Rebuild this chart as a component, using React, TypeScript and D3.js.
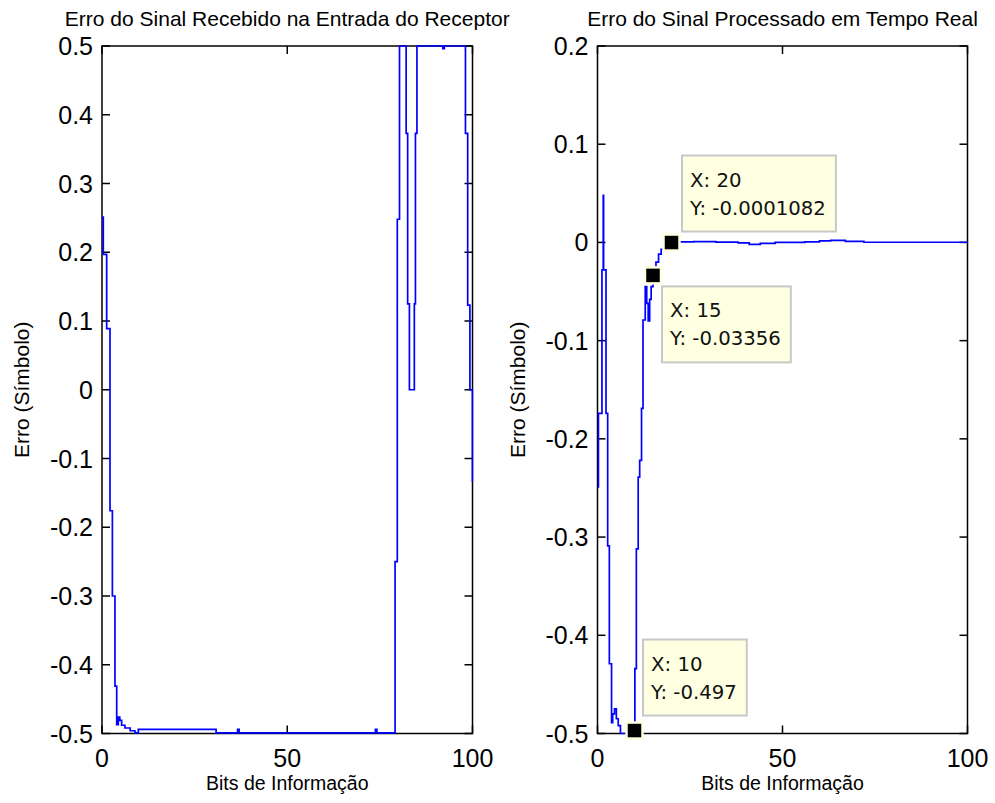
import React, { useEffect, useRef } from 'react';
import * as d3 from 'd3';

// Left panel: error of the received signal (stair points: value holds until the next x)
const recebidoX = [0, 0.35, 1.26, 2.16, 2.8, 3.5, 3.97, 4.4, 4.8, 5.3, 6.2, 7.6, 8.9, 9.8, 30.8, 36.6, 37.0, 73.8, 74.2, 79.1, 79.7, 80.3, 82.1, 82.5, 82.97, 84.3, 84.6, 85.0, 92.0, 92.4, 98.1, 98.7, 99.3, 100];
const recebidoY = [0.251, 0.197, 0.089, -0.176, -0.3, -0.431, -0.487, -0.476, -0.481, -0.488, -0.492, -0.496, -0.499, -0.494, -0.499, -0.494, -0.499, -0.494, -0.499, -0.25, 0.248, 0.5, 0.373, 0.125, 0.0, 0.125, 0.373, 0.5, 0.496, 0.5, 0.373, 0.123, 0.0, -0.134];

// Right panel: error of the signal processed in real time
const processadoX = [0, 0.25, 1.2, 1.55, 1.65, 2.3, 2.75, 3.2, 3.8, 4.1, 4.6, 5.1, 5.6, 6.2, 10, 10.1, 10.5, 11.0, 11.4, 11.9, 12.3, 12.9, 13.3, 13.7, 14.1, 14.5, 15, 15.8, 16.5, 17.2, 18, 19, 20, 22, 26, 32, 38, 41, 44, 48, 56, 60, 63, 67, 72, 100];
const processadoY = [-0.249, -0.174, -0.028, 0.048, -0.028, -0.174, -0.309, -0.429, -0.489, -0.48, -0.475, -0.485, -0.492, -0.5, -0.497, -0.434, -0.312, -0.239, -0.222, -0.169, -0.079, -0.045, -0.062, -0.08, -0.058, -0.045, -0.03356, -0.02, -0.012, -0.007, -0.004, -0.002, -0.0001082, 0.0005, 0.0008, 0.0004, -0.0005, -0.002, -0.001, 0.0, 0.0006, 0.0015, 0.002, 0.001, 0.0002, 0.0];

// data tips on the right panel
const tipX = [10, 15, 20];
const tipY = [-0.497, -0.03356, -0.0001082];
const tipYLabel = ['-0.497', '-0.03356', '-0.0001082'];

const xTicks = [0, 50, 100];
const leftYTicks = [-0.5, -0.4, -0.3, -0.2, -0.1, 0, 0.1, 0.2, 0.3, 0.4, 0.5];
const rightYTicks = [-0.5, -0.4, -0.3, -0.2, -0.1, 0, 0.1, 0.2];

const titles = ['Erro do Sinal Recebido na Entrada do Receptor', 'Erro do Sinal Processado em Tempo Real'];
const xLabel = 'Bits de Informação';
const yLabel = 'Erro (Símbolo)';

// tip box offsets from the marker (layout)
const tipBoxOffset = [[8.5, -91], [9, 11], [10.5, -87]];

const FONT = '"Liberation Sans", Arial, sans-serif';
const TOP = 46;
const BOTTOM = 733.5;

const fmt = (v: number) => String(Math.round(v * 10) / 10);

function drawPanel(svg: any, id: string, x0: number, x1: number, xs: number[], ys: number[], yTicks: number[], title: string, withTips: boolean) {
  const x = d3.scaleLinear().domain([0, 100]).range([x0, x1]);
  const y = d3.scaleLinear().domain([yTicks[0], yTicks[yTicks.length - 1]]).range([BOTTOM, TOP]);
  const g = svg.append('g');

  svg.append('defs').append('clipPath').attr('id', id)
    .append('rect').attr('x', x0 - 1).attr('y', TOP - 1).attr('width', x1 - x0 + 2).attr('height', BOTTOM - TOP + 2);

  // frame + ticks
  g.append('rect').attr('x', x0).attr('y', TOP).attr('width', x1 - x0).attr('height', BOTTOM - TOP)
    .attr('fill', '#fff').attr('stroke', '#000').attr('stroke-width', 1.5);

  const tl = 8;
  yTicks.forEach(t => {
    g.append('line').attr('x1', x0).attr('x2', x0 + tl).attr('y1', y(t)).attr('y2', y(t)).attr('stroke', '#000').attr('stroke-width', 1.5);
    g.append('line').attr('x1', x1 - tl).attr('x2', x1).attr('y1', y(t)).attr('y2', y(t)).attr('stroke', '#000').attr('stroke-width', 1.5);
    g.append('text').attr('x', x0 - 9).attr('y', y(t)).attr('dy', '0.36em').attr('text-anchor', 'end')
      .attr('font-family', FONT).attr('font-size', 25).text(fmt(t));
  });
  xTicks.forEach(t => {
    g.append('line').attr('x1', x(t)).attr('x2', x(t)).attr('y1', BOTTOM).attr('y2', BOTTOM - tl).attr('stroke', '#000').attr('stroke-width', 1.5);
    g.append('line').attr('x1', x(t)).attr('x2', x(t)).attr('y1', TOP).attr('y2', TOP + tl).attr('stroke', '#000').attr('stroke-width', 1.5);
    g.append('text').attr('x', x(t)).attr('y', 767).attr('text-anchor', 'middle')
      .attr('font-family', FONT).attr('font-size', 25).text(String(t));
  });

  // data line
  const pts = xs.map((v, i) => [v, ys[i]] as [number, number]);
  const line = d3.line<[number, number]>().x(d => x(d[0])).y(d => y(d[1])).curve(d3.curveStepAfter);
  g.append('path').attr('d', line(pts)).attr('fill', 'none').attr('stroke', '#0000ff')
    .attr('stroke-width', 1.7).attr('clip-path', `url(#${id})`);

  // labels
  const cx = (x0 + x1) / 2;
  g.append('text').attr('x', cx).attr('y', 26).attr('text-anchor', 'middle')
    .attr('font-family', FONT).attr('font-size', 21).text(title);
  g.append('text').attr('x', cx).attr('y', 790).attr('text-anchor', 'middle')
    .attr('font-family', FONT).attr('font-size', 19.5).text(xLabel);
  g.append('text').attr('transform', `translate(${x0 - 73},${(TOP + BOTTOM) / 2}) rotate(-90)`)
    .attr('text-anchor', 'middle').attr('font-family', FONT).attr('font-size', 21).text(yLabel);

  if (!withTips) return;
  tipX.forEach((tx, i) => {
    const sx = x(tx), sy = y(tipY[i]);
    const [ox, oy] = tipBoxOffset[i];
    const bx = sx + ox, by = sy + oy;
    const tg = g.append('g');
    const box = tg.append('rect').attr('x', bx).attr('y', by).attr('height', 76)
      .attr('fill', '#ffffe1').attr('stroke', '#c8c8c8').attr('stroke-width', 2);
    const t1 = tg.append('text').attr('x', bx + 8).attr('y', by + 31)
      .attr('font-family', '"DejaVu Sans", sans-serif').attr('font-size', 19.7).attr('fill', '#111').text(`X: ${tx}`);
    const t2 = tg.append('text').attr('x', bx + 8).attr('y', by + 59)
      .attr('font-family', '"DejaVu Sans", sans-serif').attr('font-size', 19.7).attr('fill', '#111').text(`Y: ${tipYLabel[i]}`);
    const w = Math.max((t1.node() as any).getComputedTextLength(), (t2.node() as any).getComputedTextLength());
    box.attr('width', w + 18);
    g.append('rect').attr('x', sx - 8).attr('y', sy - 8).attr('width', 16).attr('height', 16)
      .attr('fill', '#000').attr('stroke', '#ffffe1').attr('stroke-width', 2.5);
  });
}

const App = () => {
  const ref = useRef<SVGSVGElement>(null);

  useEffect(() => {
    const svg = d3.select(ref.current);
    svg.selectAll('*').remove();
    drawPanel(svg, 'clipL', 102, 472.5, recebidoX, recebidoY, leftYTicks, titles[0], false);
    drawPanel(svg, 'clipR', 597.5, 967.5, processadoX, processadoY, rightYTicks, titles[1], true);
  }, []);

  return (
    <svg ref={ref} width={995} height={803}
      style={{ position: 'absolute', left: 0, top: 0, background: '#fff' }} />
  );
};

export default App;
